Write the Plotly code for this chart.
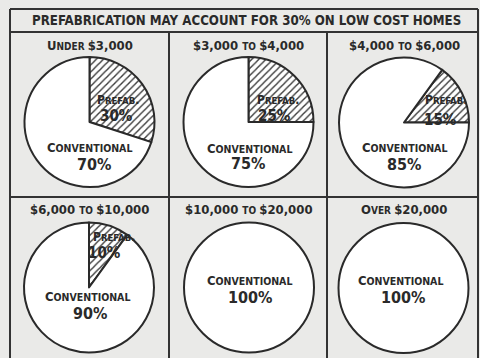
import plotly.graph_objects as go

W, H = 480, 358

# Share of total house cost, by price bracket (percent)
brackets = ["Under $3,000", "$3,000 to $4,000", "$4,000 to $6,000",
            "$6,000 to $10,000", "$10,000 to $20,000", "Over $20,000"]
prefab_pct = [30, 25, 15, 10, 0, 0]
conventional_pct = [70, 75, 85, 90, 100, 100]
slice_names = ["Prefab.", "Conventional"]
title_text = "PREFABRICATION MAY ACCOUNT FOR 30% ON LOW COST HOMES"

# ---- layout constants (pixels, y measured downward) ----
centers = [(89.5, 122), (248.5, 122), (404, 122.5),
           (89, 287.5), (249, 287.5), (403.5, 288)]
R = 65
rotations = [0, 0, 36, 0, 0, 0]
header_y = [45, 45, 45, 209, 209, 209]
prefab_name_off = [(28, -22), (29, -22), (42, -23), (25, -51), None, None]
prefab_pct_off = [(27, -6), (26, -6), (36, -3), (15, -35), None, None]
conv_name_off = [(0, 25), (1, 26), (0, 25), (-2, 9), (0, -7), (-3, -8)]
conv_pct_off = [(4, 42), (-1, 41), (0, 42), (1, 26), (1, 9.5), (-1, 9.5)]

INK = "#2a2a2a"
PAPER = "#eaeae8"
FONT = "DejaVu Sans Condensed, DejaVu Sans, sans-serif"


def px(x):
    return x / W


def py(y):
    return 1 - y / H


def small_caps(s, big, small):
    """Upper-case letters/digits at full size, lower-case as small capitals."""
    parts, buf, cur = [], "", None
    for ch in s:
        kind = "s" if ch.islower() else ("keep" if ch == " " else "b")
        if kind == "keep":
            kind = cur or "b"
        if cur is not None and kind != cur:
            parts.append((cur, buf))
            buf = ""
        cur = kind
        buf += ch.upper()
    if buf:
        parts.append((cur, buf))
    return "".join(
        f"<span style='font-size:{big if k == 'b' else small}px'>{t}</span>"
        for k, t in parts)


def label(x, y, text, size):
    return dict(x=px(x), y=py(y), xref="paper", yref="paper",
                text=text, showarrow=False,
                font=dict(family=FONT, size=size, color=INK),
                xanchor="center", yanchor="middle")


fig = go.Figure()
annotations = []

for i, name in enumerate(brackets):
    cx, cy = centers[i]
    vals = [prefab_pct[i], conventional_pct[i]]
    labs = [n for n, v in zip(slice_names, vals) if v > 0]
    shapes = ["" if n == "Conventional" else "/" for n in labs]
    fig.add_trace(go.Pie(
        labels=labs,
        values=[v for v in vals if v > 0],
        sort=False,
        direction="clockwise",
        rotation=rotations[i],
        textinfo="none",
        hoverinfo="skip",
        showlegend=False,
        domain=dict(x=[px(cx - R), px(cx + R)], y=[py(cy + R), py(cy - R)]),
        marker=dict(
            colors=["white"] * len(labs),
            line=dict(color=INK, width=2),
            pattern=dict(shape=shapes, fgcolor="#3a3a3a", bgcolor="white",
                         size=5, solidity=0.28),
        ),
    ))

    # bracket heading
    annotations.append(label(cx, header_y[i],
                             "<b>" + small_caps(name, 13, 10) + "</b>", 13))

    # slice labels
    if prefab_pct[i] > 0:
        dx, dy = prefab_name_off[i]
        annotations.append(label(cx + dx, cy + dy,
                                 "<b>" + small_caps(slice_names[0], 12, 9.5) + "</b>", 12))
        dx, dy = prefab_pct_off[i]
        annotations.append(label(cx + dx, cy + dy,
                                 f"<b>{prefab_pct[i]}%</b>", 15))
    dx, dy = conv_name_off[i]
    annotations.append(label(cx + dx, cy + dy,
                             "<b>" + small_caps(slice_names[1], 13, 10.5) + "</b>", 13))
    dx, dy = conv_pct_off[i]
    annotations.append(label(cx + dx, cy + dy,
                             f"<b>{conventional_pct[i]}%</b>", 16))

# title
annotations.append(label(247, 21, f"<b>{title_text}</b>", 13.2))

# frame of the table
frame = [
    (10, 9, 478, 9), (10, 32, 478, 32), (10, 197, 478, 197),
    (10, 9, 10, 358), (478, 9, 478, 358),
    (169, 32, 169, 358), (327, 32, 327, 358),
]
frame_shapes = [dict(type="line", xref="paper", yref="paper",
                     x0=px(a), y0=py(b), x1=px(c), y1=py(d),
                     line=dict(color="#333333", width=2)) for a, b, c, d in frame]

fig.update_layout(
    width=W, height=H,
    margin=dict(l=0, r=0, t=0, b=0),
    paper_bgcolor=PAPER, plot_bgcolor=PAPER,
    annotations=annotations, shapes=frame_shapes,
)

fig.write_html("out.html")
